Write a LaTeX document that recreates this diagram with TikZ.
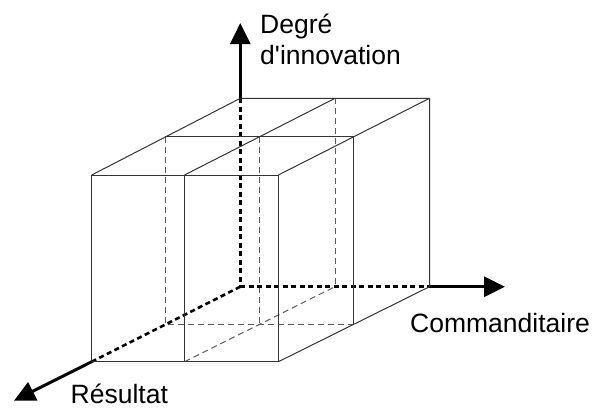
\documentclass[tikz,border=0pt]{standalone}
\usepackage{fontspec}
\setmainfont[Ligatures=TeXOff]{Liberation Sans}
\usetikzlibrary{arrows.meta}
\begin{document}
\begin{tikzpicture}[x=1pt,y=-1pt,
  thin line/.style={line width=1pt,draw=black!80},
  thin dash/.style={line width=1pt,draw=black!65,dash pattern=on 6pt off 4pt},
  axis dash/.style={line width=2.6pt,draw=black,dash pattern=on 5pt off 3.5pt},
  axis arrow/.style={line width=3pt,draw=black,-{Triangle[length=21pt,width=20pt]}},
  lbl/.style={inner sep=0pt,font=\fontsize{26.5}{31.5}\selectfont}]
\useasboundingbox (0,0) rectangle (604,410);
% front face
\coordinate (FBL) at (91.7,361.7);
\coordinate (FBM) at (184.5,361.7);
\coordinate (FBR) at (278.4,361.7);
\coordinate (FTL) at (91.7,175);
\coordinate (FTM) at (184.5,175);
\coordinate (FTR) at (278.4,175);
% middle face
\coordinate (MTL) at (165.3,136.8);
\coordinate (MTM) at (259.5,136.8);
\coordinate (MTR) at (353.5,136.8);
\coordinate (MBL) at (165.3,324.3);
\coordinate (MBM) at (259.5,324.3);
\coordinate (MBR) at (353.5,324.3);
% back face
\coordinate (O) at (240.3,286.7);
\coordinate (BTL) at (240.3,98.3);
\coordinate (BTM) at (335,98.3);
\coordinate (BTR) at (429.5,98.3);
\coordinate (BBM) at (335,286.7);
\coordinate (BBR) at (429.5,286.7);
% axis tips
\coordinate (TY) at (240.3,23);
\coordinate (TX) at (505,286.7);
\coordinate (TZ) at (14,400.7);
% hidden thin dashed edges
\draw[thin dash] (MTL) -- (MBL) -- (MBR);
\draw[thin dash] (MTM) -- (MBM);
\draw[thin dash] (BTM) -- (BBM);
\draw[thin dash] (FBM) -- (BBM);
% axes dashed parts
\draw[axis dash] (BTL) -- (O);
\draw[axis dash] (O) -- (BBR);
\draw[axis dash] (O) -- (FBL);
% visible solid edges
\draw[thin line] (FBL) rectangle (FTR);
\draw[thin line] (FBM) -- (FTM);
\draw[thin line] (FTL) -- (BTL) -- (BTR) -- (BBR) -- (FBR);
\draw[thin line] (FTM) -- (BTM);
\draw[thin line] (FTR) -- (BTR);
\draw[thin line] (MTL) -- (MTR) -- (MBR);
% axis arrows
\draw[axis arrow] (BTL) -- (TY);
\draw[axis arrow] (BBR) -- (TX);
\draw[axis arrow] (FBL) -- (TZ);
% labels
\node[lbl,anchor=base west] (lx) at (410,332.7) {Commanditaire};
\node[lbl,anchor=north west,align=left] (ly) at (260,13.5) {Degré\\d'innovation};
\node[lbl,anchor=base west] (lz) at (70.5,403.8) {Résultat};
\end{tikzpicture}
\end{document}
